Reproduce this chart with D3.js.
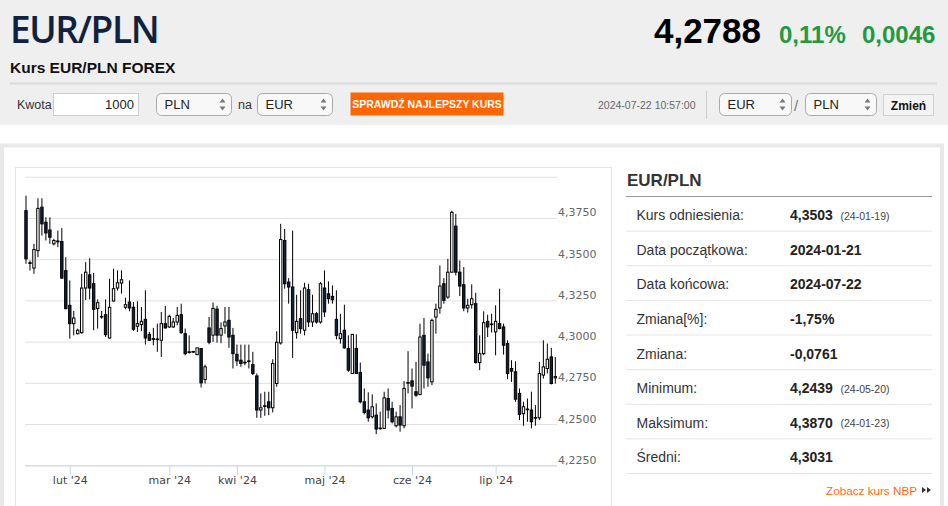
<!DOCTYPE html>
<html>
<head>
<meta charset="utf-8">
<script src="https://cdn.jsdelivr.net/npm/d3@7/dist/d3.min.js"></script>
<style>
  body { margin: 0; background: #fff; }
  svg { display: block; font-family: "Liberation Sans", Arial, sans-serif; }
</style>
</head>
<body>
<div id="viz"></div>
<script>
// daily candles EUR/PLN, 2024-01-22 .. 2024-07-22 (trading days)
const open = [4.3794,4.3478,4.3446,4.3552,4.3815,4.3724,4.3677,4.3593,4.3610,4.3607,
  4.3431,4.3220,4.3109,4.3048,4.3054,4.3325,4.3405,4.3351,4.3200,4.3153,
  4.3163,4.3022,4.3246,4.3325,4.3355,4.3208,4.3240,4.3208,4.3093,4.3103,
  4.3135,4.3044,4.3018,4.3016,4.3008,4.3109,4.3089,4.3089,4.3119,4.3163,
  4.3048,4.2938,4.2940,4.2921,4.2958,4.2770,4.3083,4.3039,4.3197,4.3039,
  4.3095,4.3129,4.3038,4.2923,4.2887,4.2875,4.2883,4.2861,4.2792,4.2585,
  4.2611,4.2635,4.2599,4.2746,4.2992,4.3613,4.3361,4.3331,4.3054,4.3139,
  4.3069,4.3315,4.3119,4.3169,4.3119,4.3325,4.3290,4.3274,4.3135,4.3018,
  4.3069,4.2958,4.2807,4.2958,4.2813,4.2635,4.2585,4.2544,4.2554,4.2476,
  4.2474,4.2655,4.2595,4.2490,4.2544,4.2490,4.2752,4.2762,4.2696,4.2679,
  4.3038,4.2877,4.2756,4.3149,4.3204,4.3351,4.3270,4.3421,4.3700,4.3421,
  4.3345,4.3204,4.3224,4.3230,4.2873,4.2927,4.3123,4.3103,4.3059,4.3109,
  4.3089,4.2988,4.2837,4.2817,4.2686,4.2563,4.2591,4.2585,4.2540,4.2538,
  4.2797,4.2837,4.2907,4.2780];
const high = [4.3885,4.3492,4.3593,4.3869,4.3869,4.3754,4.3754,4.3623,4.3673,4.3688,
  4.3512,4.3371,4.3186,4.3079,4.3411,4.3482,4.3506,4.3417,4.3256,4.3186,
  4.3256,4.3381,4.3442,4.3432,4.3432,4.3266,4.3371,4.3240,4.3244,4.3210,
  4.3311,4.3059,4.3083,4.3109,4.3180,4.3216,4.3163,4.3143,4.3210,4.3230,
  4.3079,4.3038,4.2944,4.2962,4.2958,4.2861,4.3150,4.3237,4.3217,4.3116,
  4.3210,4.3210,4.3083,4.2982,4.2982,4.2982,4.2982,4.2938,4.2807,4.2686,
  4.2696,4.2696,4.2893,4.3063,4.3714,4.3683,4.3385,4.3673,4.3284,4.3311,
  4.3357,4.3351,4.3284,4.3180,4.3361,4.3432,4.3365,4.3341,4.3311,4.3169,
  4.3224,4.3038,4.3044,4.3044,4.2873,4.2716,4.2692,4.2680,4.2625,4.2575,
  4.2696,4.2716,4.2635,4.2575,4.2615,4.2760,4.2942,4.2837,4.2877,4.3109,
  4.3143,4.2927,4.3139,4.3230,4.3462,4.3385,4.3502,4.3794,4.3774,4.3492,
  4.3452,4.3260,4.3347,4.3296,4.3038,4.3184,4.3163,4.3169,4.3220,4.3321,
  4.3109,4.3008,4.2887,4.2881,4.2716,4.2635,4.2655,4.2696,4.2615,4.2877,
  4.3008,4.2988,4.2962,4.2907];
const low = [4.3472,4.3431,4.3411,4.3512,4.3643,4.3613,4.3593,4.3583,4.3573,4.3383,
  4.3196,4.3018,4.3038,4.3044,4.3048,4.3252,4.3256,4.3069,4.3079,4.3139,
  4.3028,4.3018,4.3244,4.3309,4.3291,4.3196,4.3184,4.3065,4.3059,4.3063,
  4.2982,4.3004,4.2978,4.2938,4.2907,4.3079,4.3083,4.3083,4.3099,4.3048,
  4.2917,4.2927,4.2932,4.2921,4.2722,4.2746,4.2984,4.2998,4.2994,4.2990,
  4.3048,4.2962,4.2837,4.2853,4.2847,4.2857,4.2837,4.2797,4.2538,4.2538,
  4.2550,4.2554,4.2571,4.2726,4.2982,4.3321,4.3230,4.2901,4.3018,4.3048,
  4.3038,4.3089,4.3089,4.3109,4.3109,4.3149,4.3230,4.3230,4.3014,4.2988,
  4.2958,4.2817,4.2807,4.2807,4.2625,4.2559,4.2514,4.2534,4.2439,4.2466,
  4.2470,4.2534,4.2504,4.2480,4.2454,4.2474,4.2686,4.2595,4.2665,4.2675,
  4.2716,4.2726,4.2736,4.3048,4.3169,4.3230,4.3260,4.3417,4.3401,4.3276,
  4.3184,4.3176,4.3200,4.2867,4.2827,4.2917,4.3028,4.3055,4.2917,4.3075,
  4.2921,4.2772,4.2756,4.2635,4.2524,4.2490,4.2514,4.2474,4.2490,4.2524,
  4.2776,4.2807,4.2740,4.2746];
const close = [4.3502,4.3474,4.3558,4.3808,4.3714,4.3659,4.3633,4.3613,4.3605,4.3385,
  4.3200,4.3109,4.3143,4.3069,4.3325,4.3421,4.3325,4.3196,4.3236,4.3149,
  4.3042,4.3208,4.3321,4.3357,4.3375,4.3224,4.3204,4.3075,4.3109,4.3123,
  4.3022,4.3008,4.3014,4.3012,4.3109,4.3083,4.3153,4.3119,4.3159,4.3054,
  4.2927,4.2934,4.2936,4.2962,4.2750,4.2847,4.2996,4.3201,4.3039,4.3079,
  4.3119,4.3028,4.2927,4.2883,4.2867,4.2871,4.2879,4.2807,4.2585,4.2599,
  4.2607,4.2599,4.2867,4.2996,4.3619,4.3351,4.3331,4.3069,4.3123,4.3079,
  4.3325,4.3119,4.3169,4.3119,4.3351,4.3180,4.3260,4.3254,4.3038,4.3048,
  4.2962,4.2827,4.3044,4.2807,4.2635,4.2571,4.2538,4.2605,4.2470,4.2472,
  4.2659,4.2585,4.2514,4.2544,4.2494,4.2716,4.2748,4.2730,4.2675,4.3028,
  4.2857,4.2780,4.3129,4.3196,4.3337,4.3250,4.3421,4.3784,4.3421,4.3337,
  4.3204,4.3220,4.3260,4.2873,4.2927,4.3115,4.3089,4.3107,4.3123,4.3079,
  4.2978,4.2807,4.2821,4.2651,4.2559,4.2605,4.2587,4.2514,4.2536,4.2807,
  4.2847,4.2893,4.2746,4.2788];

// x axis month labels, placed on trading-day index
const monthTickIndex = [11, 36, 53, 75, 97, 118];
const monthTickLabels = ["lut '24", "mar '24", "kwi '24", "maj '24", "cze '24", "lip '24"];
const yTicks = [4.225, 4.25, 4.275, 4.3, 4.325, 4.35, 4.375, 4.4];

// side panel
const statLabels = ["Kurs odniesienia:", "Data początkowa:", "Data końcowa:", "Zmiana[%]:",
  "Zmiana:", "Minimum:", "Maksimum:", "Średni:"];
const statValues = ["4,3503", "2024-01-21", "2024-07-22", "-1,75%", "-0,0761", "4,2439", "4,3870", "4,3031"];
const statDates = ["(24-01-19)", "", "", "", "", "(24-05-20)", "(24-01-23)", ""];

const W = 948, H = 506;
const svg = d3.select("#viz").append("svg").attr("width", W).attr("height", H);

// ---- header
svg.append("rect").attr("width", W).attr("height", 125).attr("fill", "#efefef");
svg.append("text").attr("x", 10).attr("y", 43)
  .style("font-family", "'Open Sans', sans-serif").style("font-weight", 600)
  .style("font-size", "37px").style("letter-spacing", "-1.4px")
  .attr("fill", "#10223f").text("EUR/PLN");
svg.append("text").attr("x", 10).attr("y", 73)
  .style("font-weight", "bold").style("font-size", "15.5px").attr("fill", "#111")
  .text("Kurs EUR/PLN FOREX");
svg.append("text").attr("x", 761).attr("y", 43).attr("text-anchor", "end")
  .style("font-weight", "bold").style("font-size", "35px").attr("fill", "#000").text("4,2788");
svg.append("text").attr("x", 779).attr("y", 43)
  .style("font-weight", "bold").style("font-size", "24px").attr("fill", "#23993f").text("0,11%");
svg.append("text").attr("x", 862).attr("y", 43)
  .style("font-weight", "bold").style("font-size", "24px").attr("fill", "#23993f").text("0,0046");
svg.append("line").attr("x1", 10).attr("x2", 937).attr("y1", 83.5).attr("y2", 83.5)
  .attr("stroke", "#dadada").attr("stroke-width", 2);

// controls row
function selectBox(x, w, label) {
  const g = svg.append("g").attr("transform", `translate(${x},93.5)`);
  g.append("rect").attr("width", w).attr("height", 22).attr("rx", 5)
    .attr("fill", "#f8f8f8").attr("stroke", "#aaa");
  g.append("text").attr("x", 8).attr("y", 15.5).style("font-size", "13px")
    .attr("fill", "#222").text(label);
  g.append("path").attr("d", `M${w-12},9 l3,-4 l3,4 z M${w-12},13 l3,4 l3,-4 z`).attr("fill", "#777");
}
svg.append("text").attr("x", 17).attr("y", 109).style("font-size", "12.5px").attr("fill", "#333").text("Kwota");
svg.append("rect").attr("x", 53.5).attr("y", 93.5).attr("width", 85).attr("height", 22)
  .attr("fill", "#fff").attr("stroke", "#ccc");
svg.append("text").attr("x", 134).attr("y", 109).attr("text-anchor", "end")
  .style("font-size", "13px").attr("fill", "#222").text("1000");
selectBox(156.5, 75, "PLN");
svg.append("text").attr("x", 238).attr("y", 109).style("font-size", "12.5px").attr("fill", "#333").text("na");
selectBox(257.5, 75, "EUR");
svg.append("rect").attr("x", 350.5).attr("y", 92.5).attr("width", 153).attr("height", 23).attr("fill", "#ff6600");
svg.append("text").attr("x", 427).attr("y", 108).attr("text-anchor", "middle")
  .style("font-weight", "bold").style("font-size", "10.5px").attr("fill", "#fff")
  .text("SPRAWDŹ NAJLEPSZY KURS");
svg.append("text").attr("x", 598).attr("y", 109).style("font-size", "10.5px").attr("fill", "#666")
  .text("2024-07-22 10:57:00");
svg.append("line").attr("x1", 706.5).attr("x2", 706.5).attr("y1", 91).attr("y2", 119).attr("stroke", "#ccc");
selectBox(719.5, 72, "EUR");
svg.append("text").attr("x", 794).attr("y", 111).style("font-size", "15px").attr("fill", "#777").text("/");
selectBox(805.5, 71, "PLN");
svg.append("rect").attr("x", 883.5).attr("y", 94.5).attr("width", 50).attr("height", 21)
  .attr("fill", "#f4f4f4").attr("stroke", "#d0d0d0");
svg.append("text").attr("x", 908.5).attr("y", 109.5).attr("text-anchor", "middle")
  .style("font-weight", "bold").style("font-size", "12px").attr("fill", "#111").text("Zmień");

// ---- content frame
svg.append("rect").attr("x", 2).attr("y", 145.5).attr("width", 940).attr("height", 400)
  .attr("fill", "#fff").attr("stroke", "#e9e9e9").attr("stroke-width", 4);
svg.append("rect").attr("x", 15.5).attr("y", 167.5).attr("width", 596).attr("height", 360)
  .attr("fill", "#fff").attr("stroke", "#e4e4e4");

// ---- candlestick chart
const plotX0 = 25, plotX1 = 557;
const x = d3.scaleLinear().domain([0, close.length - 1]).range([26, 555.3]);
const y = d3.scaleLinear().domain([4.225, 4.4]).range([465.3, 176.7]);
const fmt = d => d3.format(".4f")(d).replace(".", ",");

svg.append("g").attr("transform", `translate(${plotX1},0)`)
  .call(d3.axisLeft(y).tickValues(yTicks).tickSize(plotX1 - plotX0).tickFormat(fmt))
  .call(g => g.select(".domain").remove())
  .call(g => g.selectAll(".tick line").attr("stroke", "#e0e0e0"))
  .call(g => g.selectAll(".tick text").attr("x", 1).attr("dy", -2).attr("text-anchor", "start")
    .style("font-family", "'DejaVu Sans', Verdana, sans-serif").style("font-size", "11px")
    .attr("fill", "#666")
    .style("display", d => d === 4.4 ? "none" : null));

const xAxis = svg.append("g").attr("transform", "translate(0,465.3)")
  .call(d3.axisBottom(x).tickValues(monthTickIndex).tickSize(10).tickPadding(1)
    .tickFormat((d, i) => monthTickLabels[i]));
xAxis.select(".domain").attr("d", `M${plotX0},0.5H${plotX1}`).attr("stroke", "#ccd6eb");
xAxis.selectAll(".tick line").attr("stroke", "#ccd6eb");
xAxis.selectAll(".tick text").style("font-family", "'DejaVu Sans', Verdana, sans-serif")
  .style("font-size", "11px").attr("fill", "#444");

const candles = svg.append("g").selectAll("g").data(d3.range(close.length)).join("g");
candles.append("line")
  .attr("x1", i => x(i)).attr("x2", i => x(i))
  .attr("y1", i => y(high[i])).attr("y2", i => y(low[i]))
  .attr("stroke", "#000").attr("stroke-width", 1);
const bodyW = 2.4;
candles.append("rect")
  .attr("x", i => x(i) - bodyW / 2).attr("width", bodyW)
  .attr("y", i => y(Math.max(open[i], close[i])))
  .attr("height", i => Math.max(0.6, Math.abs(y(open[i]) - y(close[i]))))
  .attr("fill", i => close[i] >= open[i] ? "#fff" : "#132139")
  .attr("stroke", "#000").attr("stroke-width", 1);

// ---- side panel
svg.append("text").attr("x", 627).attr("y", 186)
  .style("font-weight", "bold").style("font-size", "17px").attr("fill", "#333").text("EUR/PLN");
svg.append("line").attr("x1", 626).attr("x2", 932).attr("y1", 196.5).attr("y2", 196.5).attr("stroke", "#999");

const row = d3.scaleBand().domain(d3.range(statLabels.length)).range([197, 474]);
const rows = svg.append("g").selectAll("g").data(d3.range(statLabels.length)).join("g")
  .attr("transform", i => `translate(0,${row(i)})`);
rows.append("line").attr("x1", 626).attr("x2", 932)
  .attr("y1", row.bandwidth() - 0.5).attr("y2", row.bandwidth() - 0.5).attr("stroke", "#e6e6e6");
rows.append("text").attr("x", 636.5).attr("y", 23)
  .style("font-size", "14px").attr("fill", "#333").text(i => statLabels[i]);
rows.append("text").attr("x", 790).attr("y", 23)
  .style("font-size", "14px").style("font-weight", "bold").attr("fill", "#222").text(i => statValues[i]);
rows.append("text").attr("x", 840.5).attr("y", 22.5)
  .style("font-size", "10.5px").attr("fill", "#444").text(i => statDates[i]);

svg.append("text").attr("x", 917).attr("y", 495).attr("text-anchor", "end")
  .style("font-size", "11.7px").attr("fill", "#ff6a13").text("Zobacz kurs NBP");
svg.append("path").attr("d", "M922,487 l4,3 l-4,3 z M927,487 l4,3 l-4,3 z").attr("fill", "#333");
</script>
</body>
</html>
